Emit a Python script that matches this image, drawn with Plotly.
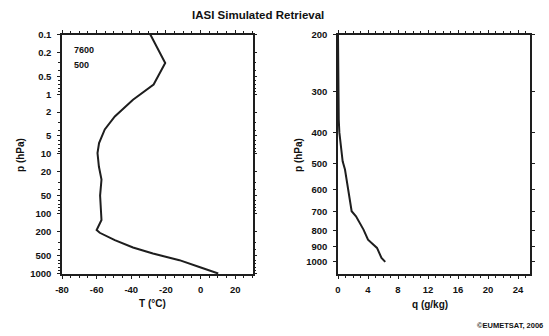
import plotly.graph_objects as go

# Temperature profile (left panel)
t_pressure = [0.1, 0.3, 0.69, 1.24, 2.36, 3.9, 6.6, 9.7, 16.3, 27, 50, 95, 128, 189, 210, 279, 370, 467, 604, 784, 1010]
t_values = [-29, -20.4, -27.1, -39, -49.5, -55.3, -58.6, -59.5, -58.7, -57.2, -58, -57.6, -57.2, -60, -58.2, -49.5, -39, -27.5, -12.2, -0.7, 10.2]

# Humidity profile (right panel)
q_pressure = [200, 300, 365, 400, 441, 491, 520, 614, 699, 724, 796, 855, 906, 973, 1000]
q_values = [0.0, 0.02, 0.1, 0.18, 0.4, 0.62, 0.93, 1.38, 1.82, 2.4, 3.4, 4.0, 5.2, 5.8, 6.3]

t_ticks = [-80, -60, -40, -20, 0, 20]
p_ticks_left = [0.1, 0.2, 0.5, 1, 2, 5, 10, 20, 50, 100, 200, 500, 1000]
q_ticks = [0, 4, 8, 12, 16, 20, 24]
p_ticks_right = [200, 300, 400, 500, 600, 700, 800, 900, 1000]

title_text = "IASI Simulated Retrieval"
notes = ["7600", "500"]

FONT = "Liberation Sans, Arial, sans-serif"
INK = "#1e1e1e"

fig = go.Figure()
fig.add_trace(go.Scatter(x=t_values, y=t_pressure, mode="lines",
                         line=dict(color=INK, width=2), xaxis="x", yaxis="y",
                         showlegend=False, hoverinfo="skip"))
fig.add_trace(go.Scatter(x=q_values, y=q_pressure, mode="lines",
                         line=dict(color=INK, width=2), xaxis="x2", yaxis="y2",
                         showlegend=False, hoverinfo="skip"))

minor_left = [m * 10 ** e for e in range(-1, 4) for m in range(1, 10) if m * 10 ** e <= 1030]

axis_common = dict(showgrid=False, zeroline=False, showline=True, linecolor=INK,
                   linewidth=1.5, mirror="ticks", ticks="outside", ticklen=3,
                   tickcolor=INK, tickwidth=1, automargin=False,
                   tickfont=dict(family=FONT, size=9.5, color="#111", weight="bold"))

fig.update_layout(
    width=549, height=336,
    margin=dict(l=0, r=0, t=0, b=0, autoexpand=False),
    paper_bgcolor="white", plot_bgcolor="white",
    xaxis=dict(domain=[62 / 549, 252.5 / 549], range=[-80, 30], tickvals=t_ticks,
               ticktext=[str(v) for v in t_ticks],
               anchor="y", ticklabelstandoff=3,
               minor=dict(dtick=5, ticks="outside", ticklen=2, tickcolor=INK),
               **axis_common),
    yaxis=dict(domain=[1 - 274 / 336, 1 - 34.5 / 336], type="log",
               range=[3.0128, -1], tickvals=p_ticks_left,
               ticktext=[str(v) for v in p_ticks_left], anchor="x",
               ticklabelstandoff=4,
               minor=dict(tickvals=minor_left, ticks="outside", ticklen=2, tickcolor=INK),
               **axis_common),
    xaxis2=dict(domain=[338 / 549, 530 / 549], range=[0, 25.6], tickvals=q_ticks,
                anchor="y2", ticklabelstandoff=3,
                minor=dict(dtick=1, ticks="outside", ticklen=2, tickcolor=INK),
                **axis_common),
    yaxis2=dict(domain=[1 - 274 / 336, 1 - 34.5 / 336], type="log",
                range=[3.0374, 2.30103], tickvals=p_ticks_right,
                ticktext=[str(v) for v in p_ticks_right], anchor="x2",
                ticklabelstandoff=4, **axis_common),
)

ann_font = dict(family=FONT, color="#111")
annotations = [
    dict(text="<b>" + title_text + "</b>", x=258 / 549, y=1 - 15 / 336,
         font=dict(size=11.5, **ann_font)),
    dict(text="<b>T (°C)</b>", x=152 / 549, y=1 - 303 / 336, font=dict(size=10, **ann_font)),
    dict(text="<b>q (g/kg)</b>", x=430 / 549, y=1 - 304 / 336, font=dict(size=10, **ann_font)),
    dict(text="<b>p (hPa)</b>", x=20 / 549, y=1 - 155 / 336, textangle=-90,
         font=dict(size=10, **ann_font)),
    dict(text="<b>p (hPa)</b>", x=298 / 549, y=1 - 155 / 336, textangle=-90,
         font=dict(size=10, **ann_font)),
    dict(text="<b>©EUMETSAT, 2006</b>", x=545 / 549, y=1 - 325 / 336, xanchor="right",
         font=dict(size=7.5, **ann_font)),
    dict(text="<b>" + notes[0] + "</b>", x=72 / 549, y=1 - 50 / 336, xanchor="left",
         font=dict(size=9, **ann_font)),
    dict(text="<b>" + notes[1] + "</b>", x=72 / 549, y=1 - 65 / 336, xanchor="left",
         font=dict(size=9, **ann_font)),
]
for a in annotations:
    a.setdefault("xanchor", "center")
    a.update(xref="paper", yref="paper", yanchor="middle", showarrow=False)
fig.update_layout(annotations=annotations)

fig.write_html("out.html", config={"displayModeBar": False},
               post_script="document.body.style.margin='0';")
